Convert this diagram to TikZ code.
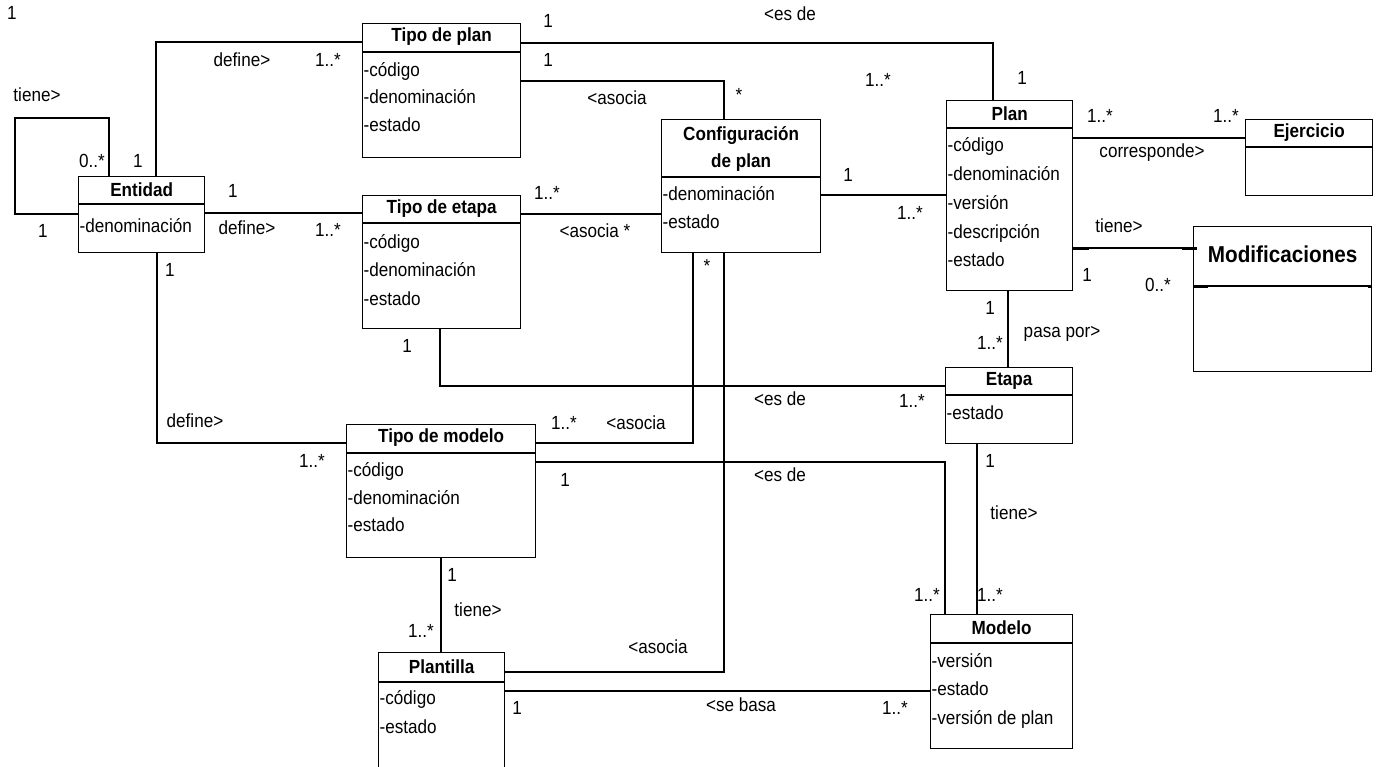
\documentclass[tikz,border=0pt]{standalone}
\usepackage{fontspec}
\setmainfont{Liberation Sans}[FakeStretch=0.9]

\tikzset{
  classbox/.style={draw, line width=1.3pt, anchor=north west, inner sep=0pt},
  hdr/.style={font=\fontsize{19}{28}\selectfont\bfseries, inner sep=0pt, align=center},
  attr/.style={font=\fontsize{19}{22}\selectfont, anchor=west, inner sep=0pt, xshift=1.5pt,
    text height=13.5pt, text depth=4pt},
  lbl/.style={font=\fontsize{19}{22}\selectfont, inner sep=0pt, text height=13.5pt, text depth=4pt},
  assoc/.style={line width=1.3pt},
  stub/.style={line width=3pt}
}

\begin{document}
\begin{tikzpicture}[x=1pt, y=-1pt]
  \useasboundingbox (0,0) rectangle (1378,766);
  \clip (0,0) rectangle (1378,766);

  % classes
  \node[classbox, minimum width=126pt, minimum height=76pt] (ent) at (78,176) {};
  \draw[assoc] (ent.west |- 0,204) -- (ent.east |- 0,204);
  \node[hdr] at (ent.north |- 0,190) {Entidad};
  \node[attr] at (ent.west |- 0,228) {-denominación};

  \node[classbox, minimum width=158pt, minimum height=134pt] (tplan) at (362,23) {};
  \draw[assoc] (tplan.west |- 0,52) -- (tplan.east |- 0,52);
  \node[hdr] at (tplan.north |- 0,37) {Tipo de plan};
  \foreach \a [count=\i] in {-código,-denominación,-estado}
    \node[attr] at (tplan.west |- 0,{44+27.5*\i}) {\a};

  \node[classbox, minimum width=158pt, minimum height=133pt] (tetapa) at (362,195) {};
  \draw[assoc] (tetapa.west |- 0,223) -- (tetapa.east |- 0,223);
  \node[hdr] at (tetapa.north |- 0,209) {Tipo de etapa};
  \foreach \a [count=\i] in {-código,-denominación,-estado}
    \node[attr] at (tetapa.west |- 0,{215+28.5*\i}) {\a};

  \node[classbox, minimum width=159pt, minimum height=133pt] (conf) at (661,119) {};
  \draw[assoc] (conf.west |- 0,177) -- (conf.east |- 0,177);
  \node[hdr] at (conf.north |- 0,149) {Configuración\\de plan};
  \foreach \a [count=\i] in {-denominación,-estado}
    \node[attr] at (conf.west |- 0,{168+28*\i}) {\a};

  \node[classbox, minimum width=126pt, minimum height=190pt] (plan) at (946,100) {};
  \draw[assoc] (plan.west |- 0,128) -- (plan.east |- 0,128);
  \node[hdr] at (plan.north |- 0,114) {Plan};
  \foreach \a [count=\i] in {-código,-denominación,-versión,-descripción,-estado}
    \node[attr] at (plan.west |- 0,{118.5+28.7*\i}) {\a};

  \node[classbox, minimum width=127pt, minimum height=76pt] (ejer) at (1245,119) {};
  \draw[assoc] (ejer.west |- 0,147) -- (ejer.east |- 0,147);
  \node[hdr] at (ejer.north |- 0,133) {Ejercicio};

  \node[classbox, minimum width=178pt, minimum height=145pt] (modif) at (1193,226) {};
  \draw[assoc] (modif.west |- 0,286) -- (modif.east |- 0,286);
  \node[hdr, font=\fontsize{23}{26}\selectfont\bfseries] at (modif.north |- 0,254) {Modificaciones};

  \node[classbox, minimum width=127pt, minimum height=76pt] (etapa) at (945,367) {};
  \draw[assoc] (etapa.west |- 0,395) -- (etapa.east |- 0,395);
  \node[hdr] at (etapa.north |- 0,381) {Etapa};
  \node[attr] at (etapa.west |- 0,415) {-estado};

  \node[classbox, minimum width=189pt, minimum height=133pt] (tmodelo) at (346,424) {};
  \draw[assoc] (tmodelo.west |- 0,453) -- (tmodelo.east |- 0,453);
  \node[hdr] at (tmodelo.north |- 0,438) {Tipo de modelo};
  \foreach \a [count=\i] in {-código,-denominación,-estado}
    \node[attr] at (tmodelo.west |- 0,{444.5+27.5*\i}) {\a};

  \node[classbox, minimum width=142pt, minimum height=134pt] (modelo) at (930,614) {};
  \draw[assoc] (modelo.west |- 0,643) -- (modelo.east |- 0,643);
  \node[hdr] at (modelo.north |- 0,628) {Modelo};
  \foreach \a [count=\i] in {-versión,-estado,-versión de plan}
    \node[attr] at (modelo.west |- 0,{634+28.5*\i}) {\a};

  \node[classbox, minimum width=126pt, minimum height=130pt] (plant) at (378,652) {};
  \draw[assoc] (plant.west |- 0,682) -- (plant.east |- 0,682);
  \node[hdr] at (plant.north |- 0,667) {Plantilla};
  \foreach \a [count=\i] in {-código,-estado}
    \node[attr] at (plant.west |- 0,{671+29*\i}) {\a};

  % associations
  \draw[assoc] (ent.north -| 109,0) |- (15,118) |- (ent.west |- 0,214);
  \draw[assoc] (ent.north -| 156,0) |- (tplan.west |- 0,42);
  \draw[assoc] (ent.east |- 0,213) -- (tetapa.west |- 0,213);
  \draw[assoc] (ent.south -| 157,0) |- (tmodelo.west |- 0,443);
  \draw[assoc] (tplan.east |- 0,43) -| (plan.north -| 993,0);
  \draw[assoc] (tplan.east |- 0,81) -| (conf.north -| 724,0);
  \draw[assoc] (tetapa.east |- 0,214) -- (conf.west |- 0,214);
  \draw[assoc] (tetapa.south -| 440,0) |- (etapa.west |- 0,386);
  \draw[assoc] (conf.east |- 0,195) -- (plan.west |- 0,195);
  \draw[assoc] (tmodelo.east |- 0,443) -| (conf.south -| 693,0);
  \draw[assoc] (plant.east |- 0,672) -| (conf.south -| 724,0);
  \draw[assoc] (tmodelo.east |- 0,462) -| (modelo.north -| 945,0);
  \draw[assoc] (tmodelo.south -| 441,0) -- (plant.north -| 441,0);
  \draw[assoc] (plant.east |- 0,691) -- (modelo.west |- 0,691);
  \draw[assoc] (etapa.south -| 977,0) -- (modelo.north -| 977,0);
  \draw[assoc] (plan.south -| 1008,0) -- (etapa.north -| 1008,0);
  \draw[assoc] (plan.east |- 0,138) -- (ejer.west |- 0,138);
  \draw[assoc] (plan.east |- 0,248) -- (modif.west |- 0,248);
  \draw[stub] (plan.east |- 0,248) -- ++(16,0);
  \draw[stub] ([xshift=-11pt]modif.west |- 0,248) -- ++(15,0);
  \draw[stub] (modif.west |- 0,286) -- ++(15,0);
  \draw[stub] (modif.east |- 0,286) -- ++(-4,0);

  % labels
  \node[lbl] at (12,15) {1};
  \node[lbl] at (37,97) {tiene>};
  \node[lbl] at (92,163) {0..*};
  \node[lbl] at (138,163) {1};
  \node[lbl] at (43,233) {1};
  \node[lbl] at (242,62) {define>};
  \node[lbl] at (328,62) {1..*};
  \node[lbl] at (233,193) {1};
  \node[lbl] at (247,230) {define>};
  \node[lbl] at (328,232) {1..*};
  \node[lbl] at (170,272) {1};
  \node[lbl] at (195,423) {define>};
  \node[lbl] at (312,463) {1..*};
  \node[lbl] at (548,23) {1};
  \node[lbl] at (548,62) {1};
  \node[lbl] at (617,100) {<asocia};
  \node[lbl] at (739,97) {*};
  \node[lbl] at (790,16) {<es de};
  \node[lbl] at (878,82) {1..*};
  \node[lbl] at (1022,80) {1};
  \node[lbl] at (1100,118) {1..*};
  \node[lbl] at (1226,118) {1..*};
  \node[lbl] at (1152,153) {corresponde>};
  \node[lbl] at (547,195) {1..*};
  \node[lbl] at (595,233) {<asocia *};
  \node[lbl] at (848,177) {1};
  \node[lbl] at (910,215) {1..*};
  \node[lbl] at (1119,228) {tiene>};
  \node[lbl] at (1087,277) {1};
  \node[lbl] at (1158,287) {0..*};
  \node[lbl] at (990,310) {1};
  \node[lbl] at (990,345) {1..*};
  \node[lbl] at (1062,333) {pasa por>};
  \node[lbl] at (407,348) {1};
  \node[lbl] at (707,268) {*};
  \node[lbl] at (780,401) {<es de};
  \node[lbl] at (912,403) {1..*};
  \node[lbl] at (564,425) {1..*};
  \node[lbl] at (636,425) {<asocia};
  \node[lbl] at (565,482) {1};
  \node[lbl] at (780,477) {<es de};
  \node[lbl] at (990,463) {1};
  \node[lbl] at (1014,515) {tiene>};
  \node[lbl] at (927,597) {1..*};
  \node[lbl] at (990,597) {1..*};
  \node[lbl] at (452,577) {1};
  \node[lbl] at (478,612) {tiene>};
  \node[lbl] at (421,633) {1..*};
  \node[lbl] at (658,649) {<asocia};
  \node[lbl] at (517,710) {1};
  \node[lbl] at (741,707) {<se basa};
  \node[lbl] at (895,710) {1..*};
\end{tikzpicture}
\end{document}
